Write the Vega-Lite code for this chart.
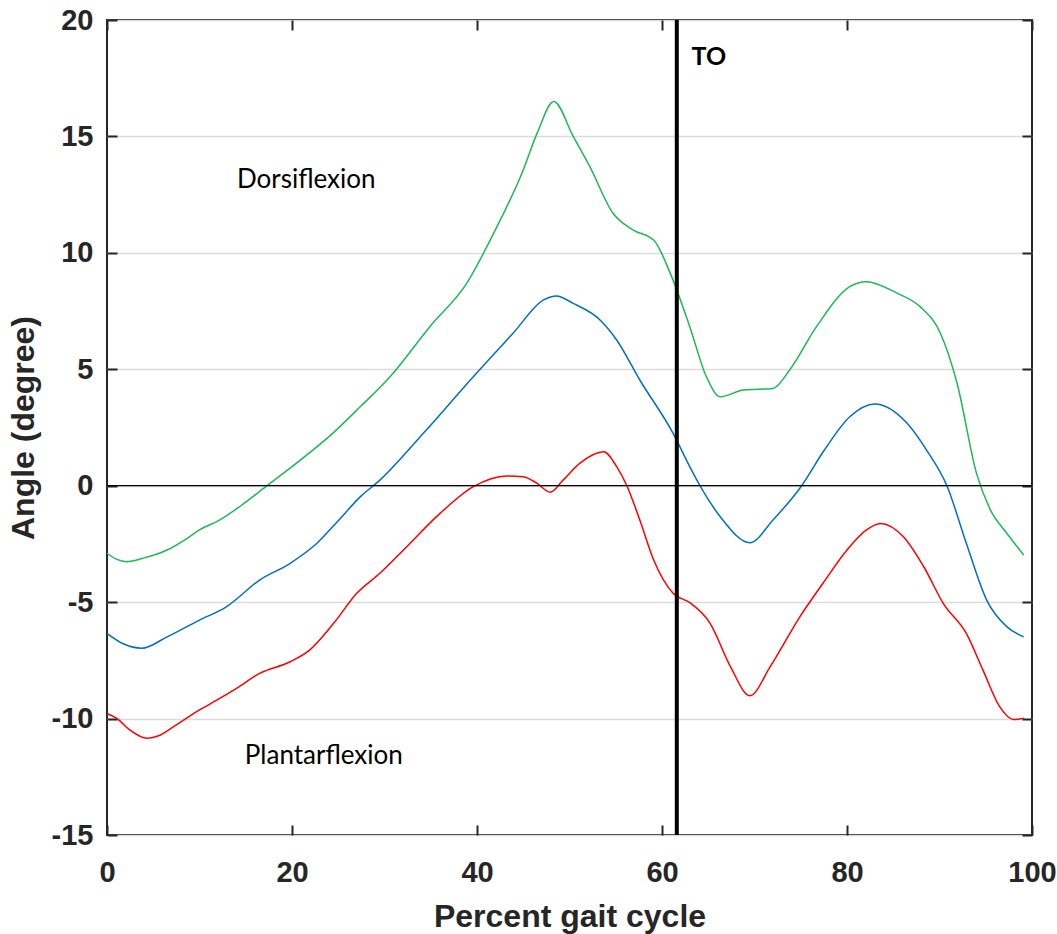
{
  "$schema": "https://vega.github.io/schema/vega-lite/v6.json",
  "autosize": {"type": "none"},
  "padding": {"left": 107, "top": 20, "right": 25, "bottom": 99},
  "width": 925,
  "height": 815,
  "background": "white",
  "datasets": {
    "curves": [
      {"series": "Mean + SD", "pct": 0, "angle": -2.9},
      {"series": "Mean + SD", "pct": 1, "angle": -3.15},
      {"series": "Mean + SD", "pct": 2.1, "angle": -3.26},
      {"series": "Mean + SD", "pct": 4, "angle": -3.1},
      {"series": "Mean + SD", "pct": 6.5, "angle": -2.76},
      {"series": "Mean + SD", "pct": 8.5, "angle": -2.3},
      {"series": "Mean + SD", "pct": 10, "angle": -1.9},
      {"series": "Mean + SD", "pct": 12.2, "angle": -1.47},
      {"series": "Mean + SD", "pct": 14.5, "angle": -0.85},
      {"series": "Mean + SD", "pct": 17.3, "angle": 0},
      {"series": "Mean + SD", "pct": 20.9, "angle": 1.1},
      {"series": "Mean + SD", "pct": 24.4, "angle": 2.25},
      {"series": "Mean + SD", "pct": 27.4, "angle": 3.4},
      {"series": "Mean + SD", "pct": 30.6, "angle": 4.68},
      {"series": "Mean + SD", "pct": 34.9, "angle": 6.83},
      {"series": "Mean + SD", "pct": 38.9, "angle": 8.7},
      {"series": "Mean + SD", "pct": 41.8, "angle": 10.84},
      {"series": "Mean + SD", "pct": 45, "angle": 13.56},
      {"series": "Mean + SD", "pct": 46.5, "angle": 15.14},
      {"series": "Mean + SD", "pct": 48.3, "angle": 16.5},
      {"series": "Mean + SD", "pct": 50.4, "angle": 15.0},
      {"series": "Mean + SD", "pct": 52.2, "angle": 13.7},
      {"series": "Mean + SD", "pct": 54.7, "angle": 11.7},
      {"series": "Mean + SD", "pct": 56.9, "angle": 10.98},
      {"series": "Mean + SD", "pct": 59.1, "angle": 10.55},
      {"series": "Mean + SD", "pct": 60.9, "angle": 9.12},
      {"series": "Mean + SD", "pct": 63.0, "angle": 6.83},
      {"series": "Mean + SD", "pct": 64.8, "angle": 4.68},
      {"series": "Mean + SD", "pct": 66.3, "angle": 3.82},
      {"series": "Mean + SD", "pct": 68.8, "angle": 4.11},
      {"series": "Mean + SD", "pct": 72, "angle": 4.18},
      {"series": "Mean + SD", "pct": 73.8, "angle": 4.97},
      {"series": "Mean + SD", "pct": 76.7, "angle": 6.83},
      {"series": "Mean + SD", "pct": 80.3, "angle": 8.55},
      {"series": "Mean + SD", "pct": 82.1, "angle": 8.76},
      {"series": "Mean + SD", "pct": 85.4, "angle": 8.27},
      {"series": "Mean + SD", "pct": 87.9, "angle": 7.69},
      {"series": "Mean + SD", "pct": 90.1, "angle": 6.55},
      {"series": "Mean + SD", "pct": 91.9, "angle": 4.4},
      {"series": "Mean + SD", "pct": 94, "angle": 0.53},
      {"series": "Mean + SD", "pct": 95.5, "angle": -1.04},
      {"series": "Mean + SD", "pct": 97.3, "angle": -2.05},
      {"series": "Mean + SD", "pct": 99.1, "angle": -2.98},

      {"series": "Mean", "pct": 0, "angle": -6.34},
      {"series": "Mean", "pct": 1.8, "angle": -6.8},
      {"series": "Mean", "pct": 3.75, "angle": -6.98},
      {"series": "Mean", "pct": 6.5, "angle": -6.49},
      {"series": "Mean", "pct": 10, "angle": -5.77},
      {"series": "Mean", "pct": 12.9, "angle": -5.2},
      {"series": "Mean", "pct": 16.5, "angle": -4.05},
      {"series": "Mean", "pct": 19.8, "angle": -3.33},
      {"series": "Mean", "pct": 22.7, "angle": -2.47},
      {"series": "Mean", "pct": 25, "angle": -1.5},
      {"series": "Mean", "pct": 27.4, "angle": -0.47},
      {"series": "Mean", "pct": 29.5, "angle": 0.24},
      {"series": "Mean", "pct": 34.2, "angle": 2.25},
      {"series": "Mean", "pct": 39.6, "angle": 4.68},
      {"series": "Mean", "pct": 43.9, "angle": 6.55},
      {"series": "Mean", "pct": 47.2, "angle": 7.98},
      {"series": "Mean", "pct": 48.6, "angle": 8.15},
      {"series": "Mean", "pct": 50.4, "angle": 7.83},
      {"series": "Mean", "pct": 53.3, "angle": 7.12},
      {"series": "Mean", "pct": 55.1, "angle": 6.26},
      {"series": "Mean", "pct": 57.6, "angle": 4.54},
      {"series": "Mean", "pct": 61.2, "angle": 2.25},
      {"series": "Mean", "pct": 63, "angle": 0.82},
      {"series": "Mean", "pct": 64.1, "angle": 0},
      {"series": "Mean", "pct": 66.3, "angle": -1.33},
      {"series": "Mean", "pct": 69.5, "angle": -2.45},
      {"series": "Mean", "pct": 72, "angle": -1.47},
      {"series": "Mean", "pct": 75.1, "angle": 0},
      {"series": "Mean", "pct": 77.5, "angle": 1.5},
      {"series": "Mean", "pct": 80.3, "angle": 2.96},
      {"series": "Mean", "pct": 83, "angle": 3.51},
      {"series": "Mean", "pct": 86.5, "angle": 2.68},
      {"series": "Mean", "pct": 88.6, "angle": 1.53},
      {"series": "Mean", "pct": 90.8, "angle": 0},
      {"series": "Mean", "pct": 92.9, "angle": -2.47},
      {"series": "Mean", "pct": 95.1, "angle": -4.91},
      {"series": "Mean", "pct": 97.3, "angle": -6.06},
      {"series": "Mean", "pct": 99.1, "angle": -6.49},

      {"series": "Mean - SD", "pct": 0, "angle": -9.78},
      {"series": "Mean - SD", "pct": 1.05, "angle": -9.99},
      {"series": "Mean - SD", "pct": 2.5, "angle": -10.5},
      {"series": "Mean - SD", "pct": 4.3, "angle": -10.85},
      {"series": "Mean - SD", "pct": 5.5, "angle": -10.75},
      {"series": "Mean - SD", "pct": 7.2, "angle": -10.35},
      {"series": "Mean - SD", "pct": 10, "angle": -9.63},
      {"series": "Mean - SD", "pct": 11.9, "angle": -9.2},
      {"series": "Mean - SD", "pct": 14, "angle": -8.7},
      {"series": "Mean - SD", "pct": 16.5, "angle": -8.06},
      {"series": "Mean - SD", "pct": 19.8, "angle": -7.56},
      {"series": "Mean - SD", "pct": 21.9, "angle": -7.06},
      {"series": "Mean - SD", "pct": 24.5, "angle": -5.91},
      {"series": "Mean - SD", "pct": 27, "angle": -4.62},
      {"series": "Mean - SD", "pct": 29.5, "angle": -3.76},
      {"series": "Mean - SD", "pct": 32.4, "angle": -2.62},
      {"series": "Mean - SD", "pct": 36, "angle": -1.19},
      {"series": "Mean - SD", "pct": 39.6, "angle": -0.04},
      {"series": "Mean - SD", "pct": 43.2, "angle": 0.42},
      {"series": "Mean - SD", "pct": 45, "angle": 0.39},
      {"series": "Mean - SD", "pct": 46.5, "angle": 0.1},
      {"series": "Mean - SD", "pct": 47.9, "angle": -0.28},
      {"series": "Mean - SD", "pct": 49.3, "angle": 0.24},
      {"series": "Mean - SD", "pct": 51.1, "angle": 0.96},
      {"series": "Mean - SD", "pct": 53.7, "angle": 1.46},
      {"series": "Mean - SD", "pct": 55.1, "angle": 0.82},
      {"series": "Mean - SD", "pct": 56.2, "angle": 0},
      {"series": "Mean - SD", "pct": 57.6, "angle": -1.47},
      {"series": "Mean - SD", "pct": 59.1, "angle": -3.19},
      {"series": "Mean - SD", "pct": 61.2, "angle": -4.62},
      {"series": "Mean - SD", "pct": 63, "angle": -5.02},
      {"series": "Mean - SD", "pct": 65.2, "angle": -5.91},
      {"series": "Mean - SD", "pct": 67.4, "angle": -7.77},
      {"series": "Mean - SD", "pct": 69.5, "angle": -9.02},
      {"series": "Mean - SD", "pct": 71.7, "angle": -7.77},
      {"series": "Mean - SD", "pct": 74.9, "angle": -5.63},
      {"series": "Mean - SD", "pct": 77.4, "angle": -4.19},
      {"series": "Mean - SD", "pct": 80, "angle": -2.76},
      {"series": "Mean - SD", "pct": 82.1, "angle": -1.9},
      {"series": "Mean - SD", "pct": 83.6, "angle": -1.62},
      {"series": "Mean - SD", "pct": 86.1, "angle": -2.19},
      {"series": "Mean - SD", "pct": 88.3, "angle": -3.48},
      {"series": "Mean - SD", "pct": 90.4, "angle": -5.05},
      {"series": "Mean - SD", "pct": 92.9, "angle": -6.34},
      {"series": "Mean - SD", "pct": 94.7, "angle": -7.92},
      {"series": "Mean - SD", "pct": 96.5, "angle": -9.49},
      {"series": "Mean - SD", "pct": 98, "angle": -10.04},
      {"series": "Mean - SD", "pct": 99.1, "angle": -9.99}
    ],
    "labels": [
      {"label": "Dorsiflexion", "pct": 14.05, "angle": 13.13},
      {"label": "Plantarflexion", "pct": 14.9, "angle": -11.6}
    ],
    "events": [
      {"event": "TO", "pct": 61.6, "labelPct": 63.2, "labelAngle": 18.4}
    ]
  },
  "layer": [
    {
      "layer": [
        {
          "data": {"name": "curves"},
          "mark": {"type": "line", "strokeWidth": 1.5, "interpolate": "monotone"},
          "encoding": {
            "x": {
              "field": "pct", "type": "quantitative",
              "scale": {"domain": [0, 100], "nice": false, "zero": false},
              "axis": {
                "title": "Percent gait cycle",
                "values": [0, 20, 40, 60, 80, 100],
                "grid": false,
                "labelFlush": false,
                "labelPadding": 33,
                "titlePadding": 14
              }
            },
            "y": {
              "field": "angle", "type": "quantitative",
              "scale": {"domain": [-15, 20], "nice": false, "zero": false},
              "axis": {
                "title": "Angle (degree)",
                "values": [-15, -10, -5, 0, 5, 10, 15, 20],
                "labelExpr": "'' + datum.value",
                "grid": true,
                "labelFlush": false,
                "labelPadding": 24,
                "titlePadding": 11
              }
            },
            "color": {
              "field": "series", "type": "nominal",
              "scale": {"domain": ["Mean + SD", "Mean", "Mean - SD"], "range": ["#1db954", "#0070c0", "#ff0000"]},
              "legend": null
            },
            "detail": {"field": "series"}
          }
        },
        {
          "data": {"values": [{"angle": 0}]},
          "mark": {"type": "rule", "color": "#000000", "strokeWidth": 1.3},
          "encoding": {"y": {"field": "angle", "type": "quantitative"}}
        },
        {
          "data": {"name": "events"},
          "mark": {"type": "rule", "color": "#000000", "strokeWidth": 4},
          "encoding": {"x": {"field": "pct", "type": "quantitative"}}
        },
        {
          "data": {"name": "labels"},
          "mark": {"type": "text", "align": "left", "baseline": "middle", "font": "Lato", "fontSize": 26, "color": "#000000"},
          "encoding": {
            "x": {"field": "pct", "type": "quantitative"},
            "y": {"field": "angle", "type": "quantitative"},
            "text": {"field": "label"}
          }
        }
      ]
    },
    {
      "data": {"name": "events"},
      "mark": {"type": "text", "align": "left", "baseline": "middle", "font": "Lato", "fontWeight": "bold", "fontSize": 25, "color": "#000000"},
      "encoding": {
        "x": {
          "field": "labelPct", "type": "quantitative",
          "scale": {"domain": [0, 100], "nice": false, "zero": false},
          "axis": {"orient": "top", "title": null, "labels": false, "values": [0, 20, 40, 60, 80, 100], "grid": false}
        },
        "y": {
          "field": "labelAngle", "type": "quantitative",
          "scale": {"domain": [-15, 20], "nice": false, "zero": false},
          "axis": {"orient": "right", "title": null, "labels": false, "values": [-15, -10, -5, 0, 5, 10, 15, 20], "grid": false}
        },
        "text": {"field": "event"}
      }
    }
  ],
  "resolve": {"scale": {"x": "independent", "y": "independent"}},
  "config": {
    "view": {"stroke": "#262626", "strokeWidth": 2},
    "axis": {
      "labelFont": "Liberation Sans",
      "labelFontWeight": "bold",
      "labelFontSize": 29,
      "labelColor": "#262626",
      "titleFont": "Liberation Sans",
      "titleFontWeight": "bold",
      "titleFontSize": 32,
      "titleColor": "#262626",
      "tickColor": "#262626",
      "tickSize": -10,
      "tickWidth": 2,
      "domain": false,
      "gridColor": "#dcdcdc",
      "gridWidth": 1.5
    }
  }
}
